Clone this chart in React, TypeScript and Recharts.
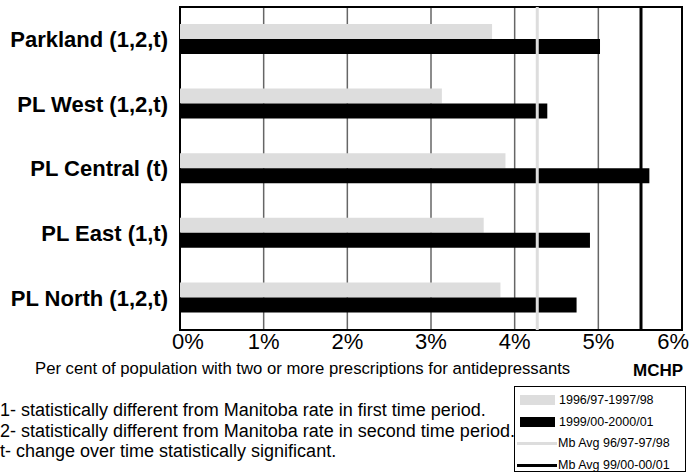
import React from 'react';
import { BarChart, Bar, XAxis, YAxis, CartesianGrid, ReferenceLine, ReferenceArea } from 'recharts';

const regions = ['Parkland (1,2,t)', 'PL West (1,2,t)', 'PL Central (t)', 'PL East (1,t)', 'PL North (1,2,t)'];
const period1 = [3.73, 3.13, 3.89, 3.63, 3.83];
const period2 = [5.02, 4.39, 5.61, 4.9, 4.74];
const mbAvg1 = 4.27;
const mbAvg2 = 5.51;
const xTicks = [0, 1, 2, 3, 4, 5, 6];

const footnotes = [
  '1- statistically different from Manitoba rate in first time period.',
  '2- statistically different from Manitoba rate in second time period.',
  't- change over time statistically significant.',
];

const legendItems = [
  { label: '1996/97-1997/98', kind: 'bar', color: '#dddddd' },
  { label: '1999/00-2000/01', kind: 'bar', color: '#000000' },
  { label: 'Mb Avg 96/97-97/98', kind: 'line', color: '#dddddd' },
  { label: 'Mb Avg 99/00-00/01', kind: 'line', color: '#000000' },
];

const data = regions.map((name, i) => ({ name, p1: period1[i], p2: period2[i] }));

const font = '"Liberation Sans", Arial, sans-serif';

// first and last labels are pulled inside the plot edges, like the original
const PercentTick = (props: any) => {
  const { x, y, payload } = props;
  const v = payload.value;
  let anchor: 'start' | 'middle' | 'end' = 'middle';
  let dx = 0;
  if (v === xTicks[0]) {
    anchor = 'start';
    dx = -8;
  } else if (v === xTicks[xTicks.length - 1]) {
    anchor = 'end';
    dx = 7;
  }
  return (
    <text x={x + dx} y={y} dy="0.71em" textAnchor={anchor} fontSize={22} fontFamily={font} fill="#000">
      {`${v}%`}
    </text>
  );
};

const App: React.FC = () => {
  return (
    <div style={{ position: 'relative', width: 690, height: 473, fontFamily: font, overflow: 'hidden' }}>
      <style>{`body{margin:0}`}</style>
      <BarChart
        width={690}
        height={360}
        data={data}
        layout="vertical"
        margin={{ top: 7, right: 8, left: 0, bottom: 5 }}
        barGap={0}
        barSize={15}
      >
        <CartesianGrid horizontal={false} stroke="#666" strokeWidth={1.5} />
        <XAxis
          type="number"
          domain={[0, 6]}
          ticks={xTicks}
          axisLine={false}
          tickLine={false}
          tickSize={0}
          height={25}
          tickMargin={3}
          interval={0}
          tick={<PercentTick />}
        />
        <YAxis
          type="category"
          dataKey="name"
          width={180}
          axisLine={false}
          tickLine={false}
          tickSize={0}
          tickMargin={12}
          tick={{ fill: '#000', fontSize: 22, fontWeight: 'bold', fontFamily: font }}
        />
        <ReferenceArea x1={0} x2={6} fill="none" stroke="#000" strokeWidth={2} />
        <Bar dataKey="p1" fill="#dddddd" isAnimationActive={false} />
        <Bar dataKey="p2" fill="#000000" isAnimationActive={false} />
        <ReferenceLine x={mbAvg1} stroke="#dddddd" strokeWidth={3} />
        <ReferenceLine x={mbAvg2} stroke="#000000" strokeWidth={3} />
      </BarChart>
      <div style={{ position: 'absolute', left: 35, top: 359, fontSize: 16.7, whiteSpace: 'nowrap' }}>
        Per cent of population with two or more prescriptions for antidepressants
      </div>
      <div style={{ position: 'absolute', left: 633, top: 361, fontSize: 17, fontWeight: 'bold' }}>MCHP</div>
      {footnotes.map((t, i) => (
        <div
          key={t}
          style={{ position: 'absolute', left: 0, top: 399 + i * 20.5, fontSize: 18, lineHeight: '22px', whiteSpace: 'nowrap' }}
        >
          {t}
        </div>
      ))}
      <div
        style={{
          position: 'absolute',
          left: 514,
          top: 386,
          width: 170,
          height: 84,
          border: '1px solid #000',
          fontSize: 12.5,
        }}
      >
        {legendItems.map((it, i) => (
          <div
            key={it.label}
            style={{ position: 'absolute', left: it.kind === 'bar' ? 5 : 2, top: 5 + i * 21.7, height: 16, display: 'flex', alignItems: 'center' }}
          >
            <div
              style={{
                width: it.kind === 'bar' ? 35 : 40,
                height: it.kind === 'bar' ? 10 : 3,
                background: it.color,
                marginRight: it.kind === 'bar' ? 4 : 1,
              }}
            />
            <span>{it.label}</span>
          </div>
        ))}
      </div>
    </div>
  );
};

export default App;
